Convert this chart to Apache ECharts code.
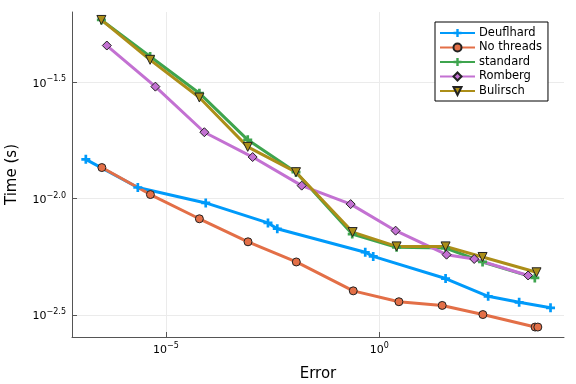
<!DOCTYPE html>
<html><head><meta charset="utf-8">
<script src="https://cdn.jsdelivr.net/npm/echarts@6/dist/echarts.min.js"></script>
<style>html,body{margin:0;padding:0;background:#fff}#c{width:576px;height:384px}</style>
</head><body><div id="c"></div>
<script>
// Data (Error, Time in seconds)
const deuflhardErr = [1.33e-7, 2.20e-6, 8.59e-5, 2.47e-3, 4.08e-3, 0.470, 0.723, 35.9, 357, 1901, 10330];
const deuflhardTime = [0.01476, 0.01117, 0.00959, 0.00787, 0.00743, 0.00589, 0.00565, 0.00454, 0.00381, 0.00359, 0.00340];
const noThreadsErr = [3.16e-7, 4.34e-6, 6.10e-5, 8.41e-4, 0.01138, 0.246, 2.89, 29.9, 268.5, 4498, 5212];
const noThreadsTime = [0.01361, 0.01042, 0.00820, 0.00653, 0.00535, 0.00402, 0.00361, 0.00348, 0.00318, 0.00281, 0.00281];
const standardErr = [3.08e-7, 4.27e-6, 6.10e-5, 8.28e-4, 0.0112, 0.233, 2.55, 35.9, 264, 4426];
const standardTime = [0.0586, 0.0408, 0.0284, 0.0179, 0.0130, 0.00705, 0.00618, 0.00614, 0.00535, 0.00457];
const rombergErr = [4.13e-7, 5.68e-6, 7.98e-5, 1.08e-3, 0.01524, 0.214, 2.42, 37.8, 168, 3083];
const rombergTime = [0.0455, 0.0303, 0.0193, 0.0151, 0.01138, 0.00948, 0.00729, 0.00575, 0.00551, 0.00468];
const bulirschErr = [3.08e-7, 4.27e-6, 6.10e-5, 8.28e-4, 0.0112, 0.238, 2.55, 35.9, 264, 4853];
const bulirschTime = [0.0586, 0.0395, 0.0272, 0.0167, 0.0130, 0.00719, 0.00624, 0.00624, 0.00562, 0.00483];
const seriesNames = ['Deuflhard', 'No threads', 'standard', 'Romberg', 'Bulirsch'];
const xTickExps = [-5, 0];
const yTickExps = [-2.5, -2.0, -1.5];
const xLabel = 'Error';
const yLabel = 'Time (s)';

const colors = ['#009AFA', '#E36F47', '#3EA44E', '#C371D2', '#AC8E18'];
const plus = 'path://M3.5,0h3v3.5h3.5v3h-3.5v3.5h-3v-3.5h-3.5v-3h3.5z';
const L = Math.log10;
function pts(xs, ys) { return xs.map((x, i) => [L(x), L(ys[i])]); }
const datasets = [
  pts(deuflhardErr, deuflhardTime), pts(noThreadsErr, noThreadsTime),
  pts(standardErr, standardTime), pts(rombergErr, rombergTime), pts(bulirschErr, bulirschTime)
];
const symbols = [plus, 'circle', plus, 'diamond', 'triangle'];
const sizes = [9, 8, 9, 9, 9];
const rotates = [0, 0, 0, 0, 180];
const stroke = [false, true, false, true, true];

function fmtExp(v, dec) {
  const s = (v < 0 ? '\u2212' : '') + Math.abs(v).toFixed(dec);
  return '{b|10}{s|' + s + '}';
}
const rich = {
  b: {fontSize: 11, fontFamily: 'DejaVu Sans', color: '#000', verticalAlign: 'bottom', lineHeight: 14},
  s: {fontSize: 8, fontFamily: 'DejaVu Sans', color: '#000', verticalAlign: 'top', padding: [0, 0, 7, 0], lineHeight: 14}
};

const chart = echarts.init(document.getElementById('c'), null, {renderer: 'canvas'});
chart.setOption({
  animation: false,
  backgroundColor: '#fff',
  grid: {left: 72, top: 12, width: 492, height: 325, containLabel: false, outerBoundsMode: 'none'},
  xAxis: {
    type: 'value', min: -7.20, max: 4.33,
    name: xLabel, nameLocation: 'middle', nameGap: 30,
    nameTextStyle: {fontSize: 15, fontFamily: 'DejaVu Sans', color: '#000'},
    axisLine: {show: true, onZero: false, lineStyle: {color: '#555', width: 1}},
    axisTick: {show: true, inside: true, length: 5, customValues: xTickExps, lineStyle: {color: '#555'}},
    axisLabel: {customValues: xTickExps, formatter: v => fmtExp(v, 0), rich: rich, margin: 5},
    splitLine: {show: true, lineStyle: {color: '#ebebeb', width: 1}}
  },
  yAxis: {
    type: 'value', min: -2.594, max: -1.198,
    name: yLabel, nameLocation: 'middle', nameGap: 52, nameRotate: 90,
    nameTextStyle: {fontSize: 15, fontFamily: 'DejaVu Sans', color: '#000'},
    axisLine: {show: true, onZero: false, lineStyle: {color: '#555', width: 1}},
    axisTick: {show: true, inside: true, length: 5, customValues: yTickExps, lineStyle: {color: '#555'}},
    axisLabel: {customValues: yTickExps, formatter: v => fmtExp(v, 1), rich: rich, margin: 6},
    splitLine: {show: true, lineStyle: {color: '#ebebeb', width: 1}}
  },
  legend: {
    orient: 'vertical', left: 435, top: 22,
    width: 113,
    backgroundColor: '#fff', borderColor: '#000', borderWidth: 1,
    padding: [5, 6, 4, 4],
    itemWidth: 35, itemHeight: 10, itemGap: 2.5,
    textStyle: {fontSize: 11.5, fontFamily: 'DejaVu Sans', color: '#000', padding: [0, 0, 0, -1]},
    data: seriesNames
  },
  series: seriesNames.map((n, i) => ({
    name: n, type: 'line', data: datasets[i],
    symbol: symbols[i], symbolSize: sizes[i], symbolRotate: rotates[i],
    showAllSymbol: true,
    lineStyle: {color: colors[i], width: 3},
    itemStyle: {color: colors[i], borderColor: stroke[i] ? '#222' : colors[i], borderWidth: stroke[i] ? 1 : 0},
    emphasis: {disabled: true}
  }))
});
</script></body></html>
